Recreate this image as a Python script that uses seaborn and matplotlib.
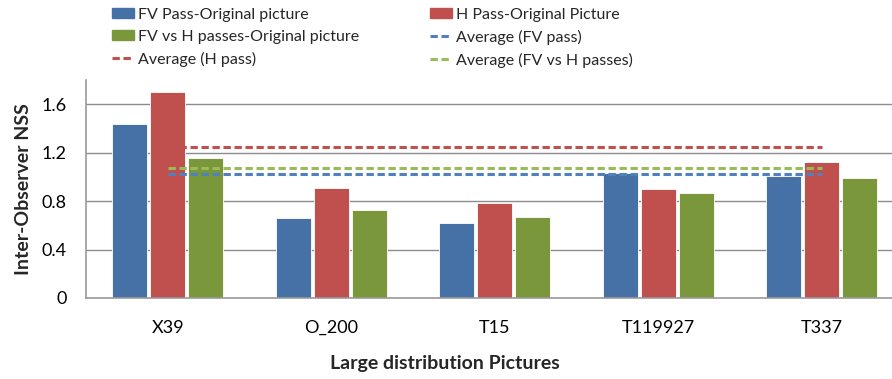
import pandas as pd
import seaborn as sns
import matplotlib.pyplot as plt
from matplotlib.patches import Patch
from matplotlib.lines import Line2D

# values
pictures = ['X39', 'O_200', 'T15', 'T119927', 'T337']
fv_pass = [1.44, 0.66, 0.62, 1.03, 1.01]
h_pass = [1.70, 0.91, 0.785, 0.90, 1.12]
fv_vs_h = [1.157, 0.727, 0.667, 0.87, 0.99]

avg_fv = 1.025
avg_h = 1.248
avg_fv_vs_h = 1.07

series_names = ['FV Pass-Original picture', 'H Pass-Original Picture',
                'FV vs H passes-Original picture']
bar_colors = ['#4571A7', '#C0504D', '#7A973B']
line_colors = ['#4F81BD', '#C0504D', '#9BBB59']

df = pd.DataFrame({
    'picture': pictures * 3,
    'series': [series_names[0]] * 5 + [series_names[1]] * 5 + [series_names[2]] * 5,
    'nss': fv_pass + h_pass + fv_vs_h,
})

sns.set_style('white')
plt.rcParams['font.family'] = ['Lato', 'DejaVu Sans']

fig = plt.figure(figsize=(8.92, 3.79), dpi=100)
ax = fig.add_axes([86 / 892, 81 / 379, 806 / 892, 218 / 379])

sns.barplot(data=df, x='picture', y='nss', hue='series', palette=bar_colors,
            saturation=1, width=0.7, gap=0.08, edgecolor='white', linewidth=0.6,
            legend=False, ax=ax)

# average lines run from the first to the last category
dash = (0, (2.4, 1.2))
ax.hlines(avg_h, 0, 4, colors=line_colors[1], linestyles=dash, lw=2.2, zorder=3)
ax.hlines(avg_fv_vs_h, 0, 4, colors=line_colors[2], linestyles=dash, lw=2.2, zorder=3)
ax.hlines(avg_fv, 0, 4, colors=line_colors[0], linestyles=dash, lw=2.2, zorder=3)

ax.set_ylim(0, 1.8)
ax.set_xlim(-0.5, 4.43)
ax.set_yticks([0, 0.4, 0.8, 1.2, 1.6])
ax.set_yticklabels(['0', '0.4', '0.8', '1.2', '1.6'])
ax.yaxis.grid(True, color='#8c8c8c', lw=1)
ax.set_axisbelow(True)
for s in ['top', 'right']:
    ax.spines[s].set_visible(False)
for s in ['left', 'bottom']:
    ax.spines[s].set_color('#9a9a9a')
    ax.spines[s].set_linewidth(1.2)
ax.tick_params(axis='both', labelsize=13, length=0, colors='black')
ax.tick_params(axis='y', pad=14)
ax.tick_params(axis='x', pad=16)

ax.set_xlabel('Large distribution Pictures', fontsize=14, fontweight='bold')
ax.xaxis.set_label_coords((445 - 86) / 806, -0.26)
ax.set_ylabel('Inter-Observer NSS', fontsize=14, fontweight='bold', labelpad=7)

# legend laid out column-wise to match the row order of the original
handles = [
    Patch(color=bar_colors[0]), Patch(color=bar_colors[2]),
    Line2D([], [], color=line_colors[1], ls=dash, lw=2.2),
    Patch(color=bar_colors[1]),
    Line2D([], [], color=line_colors[0], ls=dash, lw=2.2),
    Line2D([], [], color=line_colors[2], ls=dash, lw=2.2),
]
labels = ['FV Pass-Original picture', 'FV vs H passes-Original picture',
          'Average (H pass)', 'H Pass-Original Picture',
          'Average (FV pass)', 'Average (FV vs H passes)']
fig.legend(handles, labels, ncol=2, loc='upper left', bbox_to_anchor=(98 / 892, 1.018),
           frameon=False, fontsize=11.5, handlelength=1.35, handleheight=0.6,
           handletextpad=0.25, columnspacing=4.45, labelspacing=0.5)

plt.savefig('out.png', dpi=100)
